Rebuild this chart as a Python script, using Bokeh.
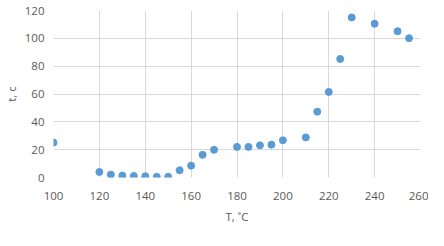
from bokeh.plotting import figure
from bokeh.embed import file_html
from bokeh.resources import INLINE
from bokeh.models import FixedTicker, Range1d

T = [100, 120, 125, 130, 135, 140, 145, 150, 155, 160, 165, 170, 180, 185, 190, 195, 200, 210, 215, 220, 225, 230, 240, 250, 255]
t = [25.1, 4.0, 2.1, 1.4, 1.1, 0.9, 0.5, 0.5, 5.2, 8.5, 16.3, 19.9, 22.0, 22.0, 23.1, 23.6, 26.7, 28.8, 47.3, 61.5, 85.2, 115.0, 110.5, 105.1, 100.1]
x_ticks = [100, 120, 140, 160, 180, 200, 220, 240, 260]
y_ticks = [0, 20, 40, 60, 80, 100, 120]

p = figure(width=428, height=230, output_backend="svg", toolbar_location=None,
           x_range=Range1d(100, 260), y_range=Range1d(0, 120))
p.min_border_left = 10
p.min_border_right = 8
p.min_border_top = 10
p.min_border_bottom = 53
p.outline_line_color = None

p.scatter(T, t, size=7, color="#5b9bd5", line_color="#5b9bd5")

font = "Open Sans"
for ax in (p.xaxis, p.yaxis):
    ax.axis_line_color = None
    ax.major_tick_line_color = None
    ax.minor_tick_line_color = None
    ax.major_label_text_color = "#595959"
    ax.major_label_text_font = font
    ax.major_label_text_font_size = "11.5px"
    ax.axis_label_text_color = "#595959"
    ax.axis_label_text_font = font
    ax.axis_label_text_font_size = "11.5px"
    ax.axis_label_text_font_style = "normal"

p.xaxis.ticker = FixedTicker(ticks=x_ticks)
p.yaxis.ticker = FixedTicker(ticks=y_ticks)
p.xaxis.axis_label = "T, ˚C"
p.yaxis.axis_label = "t, c"
p.xaxis.major_label_standoff = 8
p.yaxis.major_label_standoff = 3
p.xaxis.axis_label_standoff = 6
p.yaxis.axis_label_standoff = 3

p.xgrid.grid_line_color = "#d9d9d9"
p.ygrid.grid_line_color = "#d9d9d9"
p.xgrid.ticker = FixedTicker(ticks=x_ticks)
p.ygrid.ticker = FixedTicker(ticks=y_ticks)

open("out.html", "w").write(file_html(p, INLINE))
